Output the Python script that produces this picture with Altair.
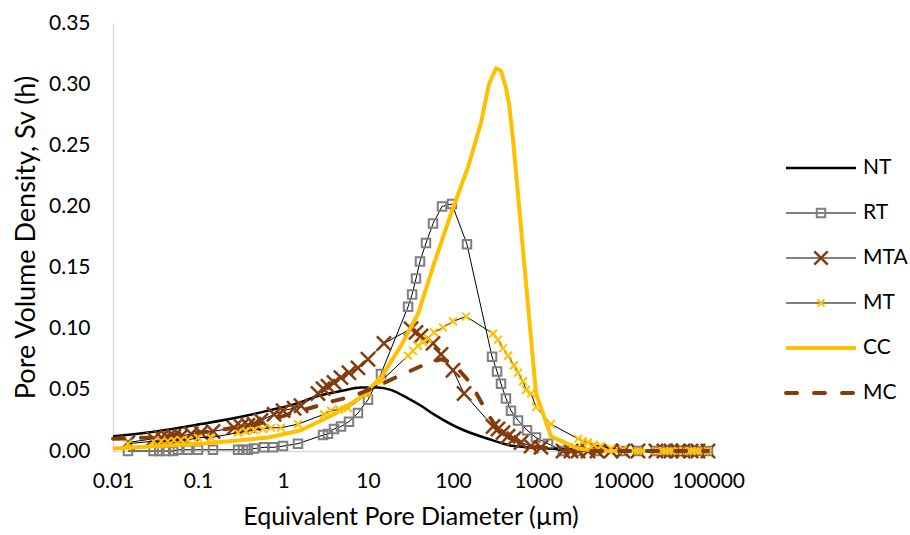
import altair as alt
import pandas as pd

SERIES = ["NT", "RT", "MTA", "MT", "CC", "MC"]

NT_D = [0.01, 0.032, 0.108, 0.321, 0.667, 1.63, 2.58, 4.81, 8.27, 13.1, 18.6, 29.6, 42.0, 59.7, 124, 258, 522, 1422, 5508, 10000]
NT_Y = [0.012, 0.016, 0.022, 0.028, 0.033, 0.040, 0.045, 0.049, 0.052, 0.052, 0.050, 0.043, 0.037, 0.030, 0.018, 0.010, 0.004, 0.002, 0.001, 0.0]

RT_D = [0.015, 0.030, 0.035, 0.042, 0.051, 0.058, 0.076, 0.10, 0.150, 0.296, 0.338, 0.387, 0.456, 0.598, 0.762, 1.0, 1.50,
        2.96, 3.38, 3.98, 4.81, 5.97, 7.62, 10.0, 14.2, 29.6, 33.0, 36.7, 40.9, 48.1, 58.2, 74.3, 97.2, 146, 288, 330, 367,
        420, 481, 582, 743, 947, 1312, 1970, 2957, 4945, 10000, 15000, 24400, 30300, 36700, 44400, 50800, 63100, 76200, 100000]
RT_Y = [0.0, 0.0, 0.0, 0.0, 0.0, 0.001, 0.001, 0.001, 0.001, 0.001, 0.001, 0.001, 0.002, 0.003, 0.003, 0.004, 0.006,
        0.013, 0.014, 0.018, 0.020, 0.024, 0.031, 0.042, 0.063, 0.118, 0.128, 0.141, 0.155, 0.170, 0.186, 0.200, 0.202, 0.169, 0.077, 0.065, 0.055,
        0.043, 0.033, 0.025, 0.017, 0.011, 0.006, 0.0, 0.0, 0.0, 0.0, 0.0, 0.0, 0.0, 0.0, 0.0, 0.0, 0.0, 0.0, 0.0]

MTA_D = [0.015, 0.030, 0.037, 0.044, 0.052, 0.063, 0.083, 0.108, 0.150, 0.265, 0.321, 0.387, 0.456, 0.551, 0.784, 1.0, 1.35, 1.63,
         2.58, 2.96, 3.38, 3.98, 4.81, 5.97, 7.62, 10.0, 15.4, 32.1, 36.7, 42.0, 58.2, 72.2, 100, 135, 296, 338, 387, 444, 522, 631, 828, 1084,
         1970, 2442, 2957, 3873, 4945, 7226, 10000, 15000, 24400, 30300, 36700, 44400, 50800, 63100, 76200, 100000]
MTA_Y = [0.007, 0.010, 0.011, 0.011, 0.012, 0.012, 0.014, 0.015, 0.016, 0.019, 0.020, 0.021, 0.022, 0.025, 0.030, 0.033, 0.035, 0.037,
         0.047, 0.051, 0.053, 0.056, 0.060, 0.064, 0.068, 0.075, 0.088, 0.100, 0.097, 0.094, 0.088, 0.079, 0.066, 0.047, 0.020, 0.018, 0.015, 0.012, 0.010, 0.007, 0.004, 0.003,
         0.0, 0.0, 0.0, 0.0, 0.0, 0.0, 0.0, 0.0, 0.0, 0.0, 0.0, 0.0, 0.0, 0.0, 0.0, 0.0]

MT_D = [0.015, 0.030, 0.037, 0.044, 0.052, 0.063, 0.076, 0.10, 0.142, 0.296, 0.367, 0.456, 0.582, 0.723, 0.947, 1.50,
        3.04, 3.67, 4.56, 5.82, 10.0, 14.2, 29.6, 33.8, 38.7, 44.4, 50.8, 59.7, 76.2, 100, 142, 296, 338, 387, 444, 522, 582, 666, 722, 828, 947, 1422,
        2957, 3384, 3873, 4561, 5508, 7226, 10000, 15000, 24400, 30300, 36700, 44400, 50800, 63100, 76200, 100000]
MT_Y = [0.006, 0.008, 0.008, 0.008, 0.009, 0.009, 0.009, 0.011, 0.011, 0.015, 0.016, 0.017, 0.018, 0.019, 0.019, 0.022,
        0.030, 0.033, 0.034, 0.035, 0.047, 0.057, 0.078, 0.082, 0.086, 0.089, 0.092, 0.097, 0.101, 0.106, 0.110, 0.096, 0.091, 0.084, 0.078, 0.070, 0.064, 0.057, 0.050, 0.047, 0.036, 0.022,
        0.010, 0.008, 0.007, 0.005, 0.004, 0.002, 0.001, 0.0, 0.0, 0.0, 0.0, 0.0, 0.0, 0.0, 0.0, 0.0]

CC_D = [0.01, 0.108, 0.667, 1.63, 3.98, 8.27, 10.0, 14.2, 24.4, 38.7, 59.7, 94.6, 150, 213, 265, 321, 367, 420, 456, 508, 947, 1422,
        2957, 4945, 10000, 24400, 50800, 100000]
CC_Y = [0.002, 0.006, 0.011, 0.017, 0.030, 0.044, 0.050, 0.060, 0.086, 0.112, 0.153, 0.194, 0.232, 0.268, 0.300, 0.313, 0.311, 0.297, 0.284, 0.255, 0.047, 0.012,
        0.002, 0.0, 0.0, 0.0, 0.0, 0.0]

MC_D = [0.01, 0.028, 0.058, 0.142, 0.321, 0.508, 1.15, 2.58, 3.98, 6.84, 11.8, 22.5, 50.8, 72.2, 100, 115, 163, 258, 367, 828, 1422,
        1970, 2957, 4945, 10000, 15000, 24400, 30300, 36700, 50800, 63100, 76200, 100000]
MC_Y = [0.010, 0.011, 0.014, 0.016, 0.020, 0.022, 0.030, 0.037, 0.041, 0.045, 0.052, 0.061, 0.072, 0.075, 0.072, 0.067, 0.055, 0.030, 0.014, 0.004, 0.002,
        0.0, 0.0, 0.0, 0.0, 0.0, 0.0, 0.0, 0.0, 0.0, 0.0, 0.0, 0.0]

X_TICKS = [0.01, 0.1, 1, 10, 100, 1000, 10000, 100000]
Y_TICKS = [0.0, 0.05, 0.10, 0.15, 0.20, 0.25, 0.30, 0.35]

FONT = "Lato"
BLACK = "#000000"
BROWN = "#843C0C"
GOLD = "#FFC000"
GRAY = "#7F7F7F"
AXIS_GRAY = "#D9D9D9"
X_PATH = "M-1,-1L1,1M-1,1L1,-1"


def frame(name, d, y):
    return pd.DataFrame({"series": name, "d": d, "y": y})


nt = frame("NT", NT_D, NT_Y)
rt = frame("RT", RT_D, RT_Y)
mta = frame("MTA", MTA_D, MTA_Y)
mt = frame("MT", MT_D, MT_Y)
cc = frame("CC", CC_D, CC_Y)
mc = frame("MC", MC_D, MC_Y)

x_enc = alt.X(
    "d:Q",
    scale=alt.Scale(type="log", domain=[0.01, 100000]),
    axis=alt.Axis(values=X_TICKS, format="~g", title="Equivalent Pore Diameter (µm)", grid=False,
                  ticks=False, tickSize=0, domainColor=AXIS_GRAY, domainWidth=1.5,
                  labelPadding=19, titlePadding=13, labelFontSize=21, titleFontSize=25,
                  titleFontWeight="normal", labelColor=BLACK, titleColor=BLACK,
                  labelFlush=False, labelOverlap=False),
)
y_enc = alt.Y(
    "y:Q",
    scale=alt.Scale(domain=[0, 0.35]),
    axis=alt.Axis(values=Y_TICKS, format=".2f", title="Pore Volume Density, Sv (h)", grid=False,
                  ticks=False, tickSize=0, domainColor=AXIS_GRAY, domainWidth=1.5,
                  labelPadding=23, titlePadding=8, labelFontSize=21, titleFontSize=27,
                  titleFontWeight="normal", labelColor=BLACK, titleColor=BLACK,
                  labelFlush=False, labelOverlap=False),
)

nt_line = alt.Chart(nt).mark_line(color=BLACK, strokeWidth=2.5, interpolate="monotone").encode(x=x_enc, y=y_enc)
rt_line = alt.Chart(rt).mark_line(color=BLACK, strokeWidth=1).encode(x=x_enc, y=y_enc)
rt_pts = alt.Chart(rt).mark_point(shape="square", size=72, filled=False, color=GRAY, strokeWidth=2, opacity=1).encode(x=x_enc, y=y_enc)
mta_line = alt.Chart(mta).mark_line(color=BLACK, strokeWidth=1).encode(x=x_enc, y=y_enc)
mta_pts = alt.Chart(mta).mark_point(shape=X_PATH, size=200, filled=False, color=BROWN, strokeWidth=2.5, opacity=1).encode(x=x_enc, y=y_enc)
mt_line = alt.Chart(mt).mark_line(color=BLACK, strokeWidth=1).encode(x=x_enc, y=y_enc)
mt_pts = alt.Chart(mt).mark_point(shape=X_PATH, size=60, filled=False, color=GOLD, strokeWidth=2, opacity=1).encode(x=x_enc, y=y_enc)
cc_line = alt.Chart(cc).mark_line(color=GOLD, strokeWidth=4, strokeJoin="round").encode(x=x_enc, y=y_enc)
mc_line = alt.Chart(mc).mark_line(color=BROWN, strokeWidth=4, strokeDash=[11, 17], strokeCap="round").encode(x=x_enc, y=y_enc)

main = alt.layer(nt_line, rt_line, rt_pts, mta_line, mta_pts, mt_line, mt_pts, cc_line, mc_line).properties(width=595, height=428)

# legend panel
leg = pd.DataFrame({"series": SERIES, "row": list(range(len(SERIES)))})
ly = alt.Y("row:Q", scale=alt.Scale(domain=[-3.222, 6.289], reverse=True), axis=None)
LX = alt.Scale(domain=[0, 1])


def leg_rule(name, **kw):
    return alt.Chart(leg).transform_filter(alt.datum.series == name).mark_rule(**kw).encode(
        x=alt.XDatum(0.39, scale=LX, axis=None), x2=alt.X2Datum(0.74), y=ly)


def leg_pt(name, **kw):
    return alt.Chart(leg).transform_filter(alt.datum.series == name).mark_point(opacity=1, filled=False, **kw).encode(
        x=alt.XDatum(0.565, scale=LX, axis=None), y=ly)


leg_layers = [
    leg_rule("NT", color=BLACK, strokeWidth=2.5),
    leg_rule("RT", color=BLACK, strokeWidth=1),
    leg_pt("RT", shape="square", size=72, color=GRAY, strokeWidth=2),
    leg_rule("MTA", color=BLACK, strokeWidth=1),
    leg_pt("MTA", shape=X_PATH, size=180, color=BROWN, strokeWidth=2.5),
    leg_rule("MT", color=BLACK, strokeWidth=1),
    leg_pt("MT", shape=X_PATH, size=50, color=GOLD, strokeWidth=2),
    leg_rule("CC", color=GOLD, strokeWidth=4),
    leg_rule("MC", color=BROWN, strokeWidth=4, strokeDash=[11, 17], strokeCap="round"),
    alt.Chart(leg).mark_text(align="left", baseline="middle", fontSize=21, font=FONT, color=BLACK).encode(
        x=alt.XDatum(0.775, scale=LX, axis=None), y=ly, text="series:N"),
]
legend = alt.layer(*leg_layers).properties(width=200, height=428)

chart = alt.hconcat(main, legend, spacing=0, bounds="flush").properties(
    padding={"top": 12, "left": 12, "right": 0, "bottom": 4}
).configure_view(stroke=None).configure_axis(labelFont=FONT, titleFont=FONT).configure_text(font=FONT)

chart.save("out.html", embed_options={"renderer": "svg", "actions": False})
